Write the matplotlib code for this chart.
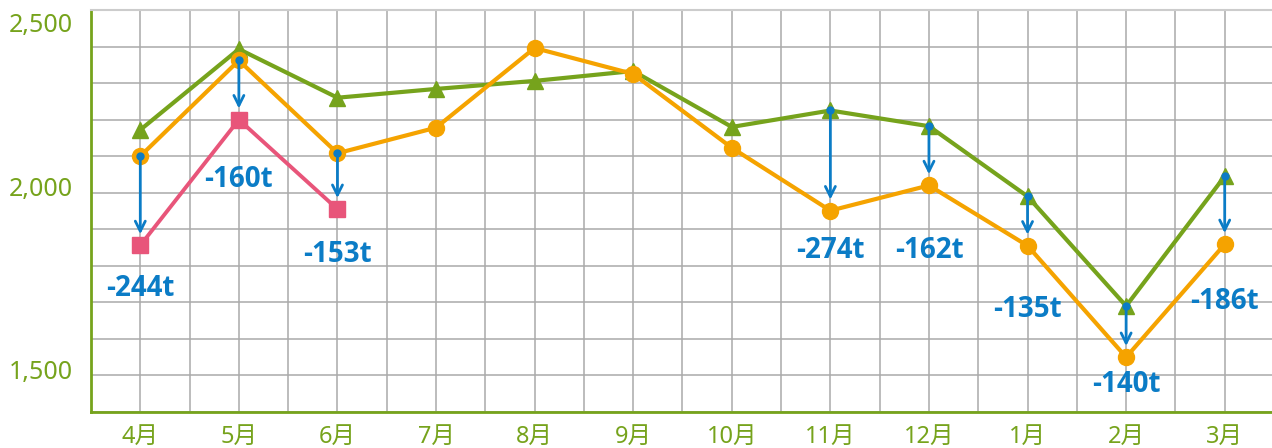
import numpy as np
import matplotlib
matplotlib.use("Agg")
from matplotlib import pyplot as plt

plt.rcParams['font.family'] = ['Noto Sans', 'Noto Sans CJK JP', 'DejaVu Sans']

months = ['4月', '5月', '6月', '7月', '8月', '9月', '10月', '11月', '12月', '1月', '2月', '3月']
green_vals = [2172, 2393, 2260, 2284, 2306, 2333, 2180, 2225, 2182, 1990, 1690, 2045]
orange_vals = [2100, 2362, 2108, 2178, 2396, 2325, 2123, 1951, 2020, 1855, 1550, 1859]
pink_vals = [1856, 2200, 1955]

# arrows: month index and label
arrow_idx = [0, 1, 2, 7, 8, 9, 10, 11]
arrow_labels = ['-244t', '-160t', '-153t', '-274t', '-162t', '-135t', '-140t', '-186t']
label_drop = [43, 60, 45, 40, 65, 64, 27, 57]  # px below the lower marker

GREEN = '#76a31c'
ORANGE = '#f5a300'
PINK = '#e8557a'
BLUE = '#0b7cc6'

fig = plt.figure(figsize=(12.72, 4.48), dpi=100)
ax = fig.add_axes([91/1272, 36/448, 1183/1272, 402/448])

x = np.arange(len(months))

ax.set_xlim(-0.5, 11.5)
ax.set_ylim(1400, 2500)
ax.set_xticks(x)
ax.set_xticks(np.arange(-0.5, 11.6, 1), minor=True)
ax.set_yticks(np.arange(1400, 2501, 100))
ax.grid(True, which='both', color='#aaaaaa', lw=1.1)
ax.set_axisbelow(True)
ax.tick_params(which='both', length=0)
ax.tick_params(axis='x', labelsize=17, labelcolor=GREEN, pad=9)
ax.set_xticklabels(months)
ax.tick_params(axis='y', labelleft=False)

for s in ['left', 'bottom']:
    ax.spines[s].set_color(GREEN)
    ax.spines[s].set_linewidth(2)
ax.spines['right'].set_visible(False)
ax.spines['top'].set_color('#cccccc')
ax.spines['top'].set_linewidth(1.5)

# y labels
for v, dy in [(1500, 2), (2000, 2), (2500, -11)]:
    ax.annotate(f'{v:,}', xy=(0, v), xycoords=('axes fraction', 'data'),
                xytext=(-13, dy), textcoords='offset points',
                ha='right', va='center', fontsize=18, color=GREEN)

ax.plot(x, green_vals, color=GREEN, lw=3, marker='^', ms=12, zorder=3)
ax.plot(x, orange_vals, color=ORANGE, lw=3, marker='o', ms=11.5, zorder=4)
ax.plot(x[:3], pink_vals, color=PINK, lw=2.8, marker='s', ms=11, zorder=5)

for i, lab, drop in zip(arrow_idx, arrow_labels, label_drop):
    if i < 3:
        y0, y1 = orange_vals[i], pink_vals[i]
    else:
        y0, y1 = green_vals[i], orange_vals[i]
    ax.annotate('', xy=(x[i], y1), xytext=(x[i], y0),
                arrowprops=dict(arrowstyle='->', color=BLUE, lw=2,
                                shrinkA=0, shrinkB=8, mutation_scale=18),
                zorder=6)
    ax.plot(x[i], y0, 'o', color=BLUE, ms=5, zorder=7)
    ax.annotate(lab, xy=(x[i], y1), xytext=(0, -drop * 0.72),
                textcoords='offset points', ha='center', va='center',
                fontsize=20, fontweight='bold', color=BLUE, zorder=8,
                family=['Open Sans', 'DejaVu Sans'])

fig.savefig('out.png', dpi=100)
